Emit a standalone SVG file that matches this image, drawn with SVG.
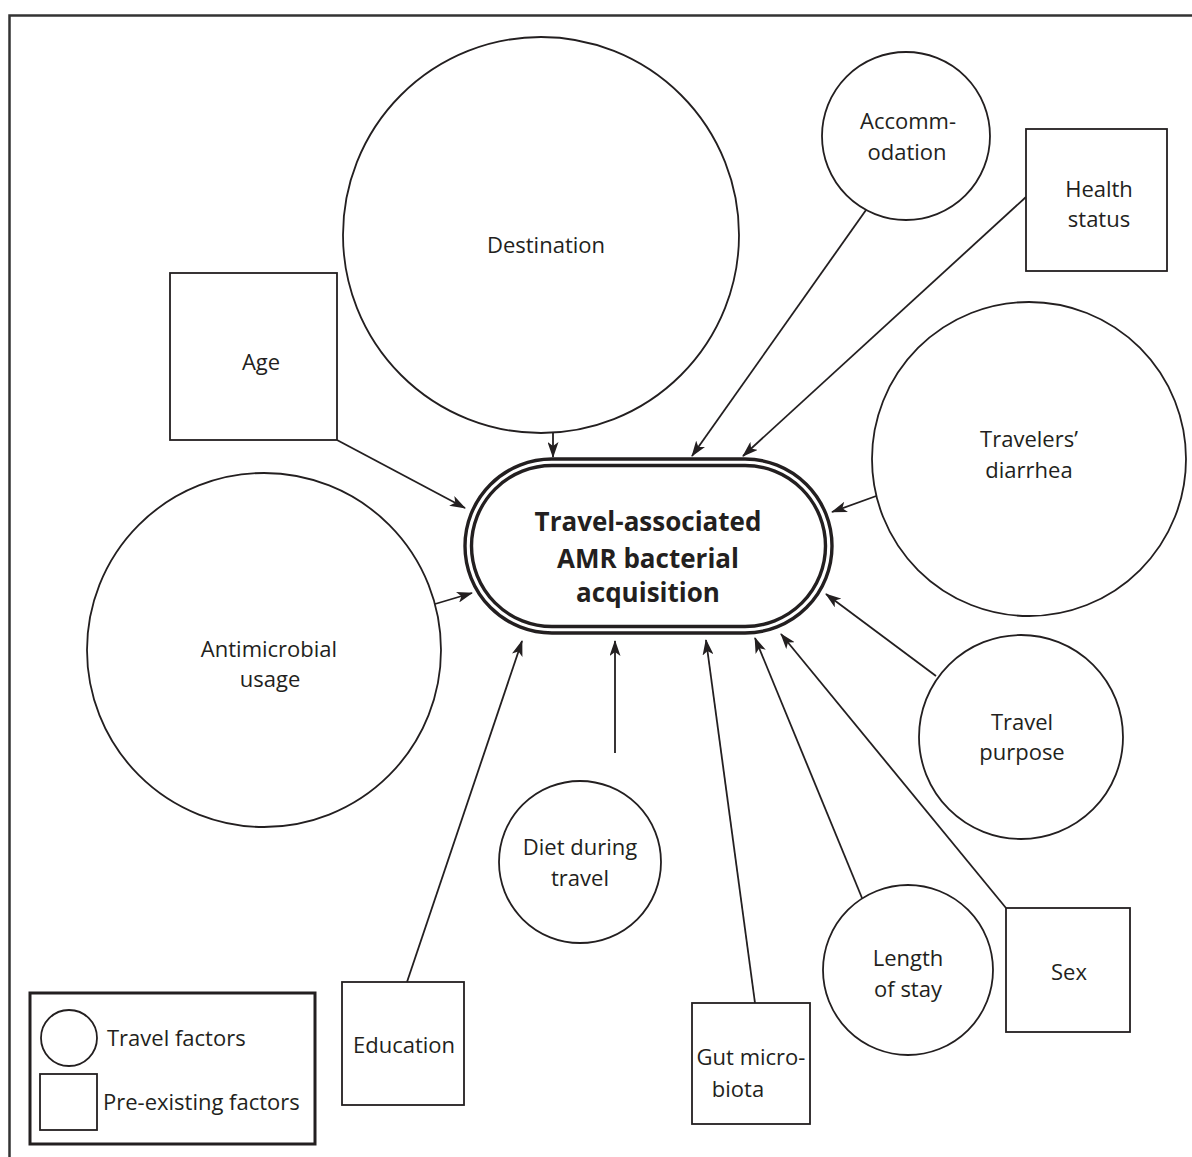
<svg xmlns="http://www.w3.org/2000/svg" width="1192" height="1157" viewBox="0 0 1192 1157">
<defs>
<marker id="ah" viewBox="0 0 16 11" refX="15" refY="5.5" markerWidth="16" markerHeight="11" markerUnits="userSpaceOnUse" orient="auto">
<path d="M0,0 L16,5.5 L0,11 L4,5.5 Z" fill="#231f20"/>
</marker>
<style>
.n{fill:#fff;stroke:#231f20;stroke-width:1.8}
.t{font-family:"Open Sans","Noto Sans",sans-serif;font-size:22px;fill:#231f20;text-anchor:middle}
.c{stroke:#231f20;stroke-width:1.8;fill:none;marker-end:url(#ah)}
.b{font-family:"Open Sans","Noto Sans",sans-serif;font-size:26px;font-weight:bold;fill:#231f20;text-anchor:middle}
</style>
</defs>
<rect width="1192" height="1157" fill="#fff"/>
<path d="M9.5,1157 V15.5 H1192" fill="none" stroke="#333" stroke-width="2.5"/>

<g id="connectors">
<line class="c" x1="553" y1="433" x2="553" y2="457"/>
<line class="c" x1="337" y1="440" x2="465" y2="508"/>
<line class="c" x1="866" y1="210" x2="692" y2="456"/>
<line class="c" x1="1026" y1="197" x2="743" y2="456"/>
<line class="c" x1="879" y1="495" x2="832" y2="512"/>
<line class="c" x1="435" y1="604" x2="472" y2="593"/>
<line class="c" x1="615" y1="753" x2="615" y2="641"/>
<line class="c" x1="407" y1="982" x2="522" y2="641"/>
<line class="c" x1="755" y1="1003" x2="706" y2="640"/>
<line class="c" x1="862" y1="898" x2="755" y2="638"/>
<line class="c" x1="1006" y1="908" x2="781" y2="634"/>
<line class="c" x1="936" y1="676" x2="826" y2="594"/>
</g>

<g id="center">
<rect x="465" y="459" width="367" height="174" rx="87" fill="#fff" stroke="#231f20" stroke-width="3.4"/>
<rect x="471.5" y="465.5" width="354" height="161" rx="80.5" fill="none" stroke="#231f20" stroke-width="3.4"/>
<text class="b" x="648" y="531">Travel-associated</text>
<text class="b" x="648" y="568">AMR bacterial</text>
<text class="b" x="648" y="602">acquisition</text>
</g>

<g id="destination">
<circle class="n" cx="541" cy="235" r="198"/>
<text class="t" x="546" y="253">Destination</text>
</g>
<g id="accommodation">
<circle class="n" cx="906" cy="136" r="84"/>
<text class="t" x="908" y="129">Accomm-</text>
<text class="t" x="907" y="160">odation</text>
</g>
<g id="health">
<rect class="n" x="1026" y="129" width="141" height="142"/>
<text class="t" x="1099" y="197">Health</text>
<text class="t" x="1099" y="227">status</text>
</g>
<g id="age">
<rect class="n" x="170" y="273" width="167" height="167"/>
<text class="t" x="261" y="370">Age</text>
</g>
<g id="diarrhea">
<circle class="n" cx="1029" cy="459" r="157"/>
<text class="t" x="1029" y="447">Travelers’</text>
<text class="t" x="1029" y="478">diarrhea</text>
</g>
<g id="antimicrobial">
<circle class="n" cx="264" cy="650" r="177"/>
<text class="t" x="269" y="657">Antimicrobial</text>
<text class="t" x="270" y="687">usage</text>
</g>
<g id="purpose">
<circle class="n" cx="1021" cy="737" r="102"/>
<text class="t" x="1022" y="730">Travel</text>
<text class="t" x="1022" y="760">purpose</text>
</g>
<g id="diet">
<circle class="n" cx="580" cy="862" r="81"/>
<text class="t" x="580" y="855">Diet during</text>
<text class="t" x="580" y="886">travel</text>
</g>
<g id="length">
<circle class="n" cx="908" cy="970" r="85"/>
<text class="t" x="908" y="966">Length</text>
<text class="t" x="908" y="997">of stay</text>
</g>
<g id="sex">
<rect class="n" x="1006" y="908" width="124" height="124"/>
<text class="t" x="1069" y="980">Sex</text>
</g>
<g id="gut">
<rect class="n" x="692" y="1003" width="118" height="121"/>
<text class="t" x="751" y="1065">Gut micro-</text>
<text class="t" x="738" y="1097">biota</text>
</g>
<g id="education">
<rect class="n" x="342" y="982" width="122" height="123"/>
<text class="t" x="404" y="1053">Education</text>
</g>

<g id="legend">
<rect x="30" y="993" width="285" height="151" fill="#fff" stroke="#231f20" stroke-width="3"/>
<circle class="n" cx="69" cy="1038" r="28"/>
<rect class="n" x="40" y="1074" width="57" height="56"/>
<text class="t" x="107" y="1046" style="text-anchor:start">Travel factors</text>
<text class="t" x="103" y="1110" style="text-anchor:start">Pre-existing factors</text>
</g>
</svg>
